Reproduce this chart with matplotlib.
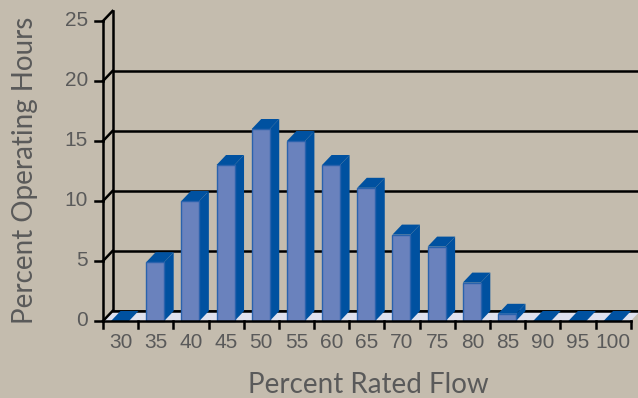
import numpy as np
import matplotlib.pyplot as plt
from matplotlib.patches import Polygon


# Dados
flow = [30, 35, 40, 45, 50, 55, 60, 65, 70, 75, 80, 85, 90, 95, 100]
hours = [0, 4.9, 10, 13, 16, 15, 13, 11.1, 7.2, 6.2, 3.2, 0.6, 0, 0, 0]
y_ticks = [0, 5, 10, 15, 20, 25]

BG = "#c4bcae"
FRONT = "#6a82bd"
EDGE = "#2a62ad"
SIDE = "#0051a0"
FLOOR = "#dfe1ee"
TEXT = "#5a5a5a"

# escala em pixels: largura de categoria e pixels por unidade
CAT_PX = 35.18
UNIT_PX = 12.0

# profundidade do efeito 3D (em unidades de dados)
DX = 9.5 / CAT_PX
DY = 10.0 / UNIT_PX
BAR_L = 8.0 / CAT_PX
BAR_W = 18.0 / CAT_PX

n = len(flow)
top = y_ticks[-1]

fig = plt.figure(figsize=(6.38, 3.98), dpi=100)
fig.patch.set_facecolor(BG)
ax = fig.add_axes([0, 0, 1, 1])
ax.set_facecolor(BG)
ax.set_xlim(-103 / CAT_PX, (638 - 103) / CAT_PX)
ax.set_ylim(-77 / UNIT_PX, 321 / UNIT_PX)
ax.axis("off")

lw = 1.8

# parede do fundo: linhas de grade
for v in y_ticks[:-1]:
    ax.plot([DX, n + 1], [v + DY, v + DY], color="black", lw=lw, zorder=1,
            solid_capstyle="butt")
ax.plot([DX, DX], [DY, top + DY], color="black", lw=lw, zorder=1)

# piso
ax.add_patch(Polygon([(0, 0), (n, 0), (n + DX, DY), (DX, DY)],
                     closed=True, facecolor=FLOOR, edgecolor="none", zorder=2))
ax.plot([DX, n + 1], [DY, DY], color="black", lw=lw, zorder=2)

# barras
for i, v in enumerate(hours):
    x0 = i + BAR_L
    x1 = x0 + BAR_W
    if v > 0:
        ax.add_patch(Polygon([(x1, 0), (x1 + DX, DY), (x1 + DX, v + DY), (x1, v)],
                             closed=True, facecolor=SIDE, edgecolor="none", zorder=3))
    ax.add_patch(Polygon([(x0, v), (x1, v), (x1 + DX, v + DY), (x0 + DX, v + DY)],
                         closed=True, facecolor=SIDE, edgecolor="none", zorder=3))
    if v > 0:
        ax.add_patch(Polygon([(x0, 0), (x1, 0), (x1, v), (x0, v)],
                             closed=True, facecolor=FRONT, edgecolor=EDGE,
                             lw=1.0, zorder=4))

# eixo frontal
ax.plot([0, 0], [0, top], color="black", lw=lw, zorder=5)
ax.plot([0, n], [0, 0], color="black", lw=lw, zorder=5)
tick_x = 8.0 / CAT_PX
tick_y = 7.0 / UNIT_PX
tick_font = dict(color=TEXT, fontsize=15, family="Liberation Sans")
for v in y_ticks:
    ax.plot([-tick_x, 0], [v, v], color="black", lw=lw, zorder=5)
    ax.plot([0, DX], [v, v + DY], color="black", lw=lw, zorder=5)
    ax.text(-15 / CAT_PX, v, str(v), ha="right", va="center", **tick_font)
for i in range(n + 1):
    ax.plot([i, i], [0, -tick_y], color="black", lw=lw, zorder=5)
for i, f in enumerate(flow):
    ax.text(i + 0.5, -21 / UNIT_PX, str(f), ha="center", va="center",
            **tick_font)

ax.text((368 - 103) / CAT_PX, -72 / UNIT_PX, "Percent Rated Flow",
        ha="center", va="baseline", color=TEXT, fontsize=20, family="Lato")
ax.text(-78 / CAT_PX, (321 - 170) / UNIT_PX, "Percent Operating Hours",
        ha="center", va="center", rotation=90, color=TEXT, fontsize=20,
        family="Lato")

plt.savefig("out.png", dpi=100, facecolor=BG)
plt.close()
